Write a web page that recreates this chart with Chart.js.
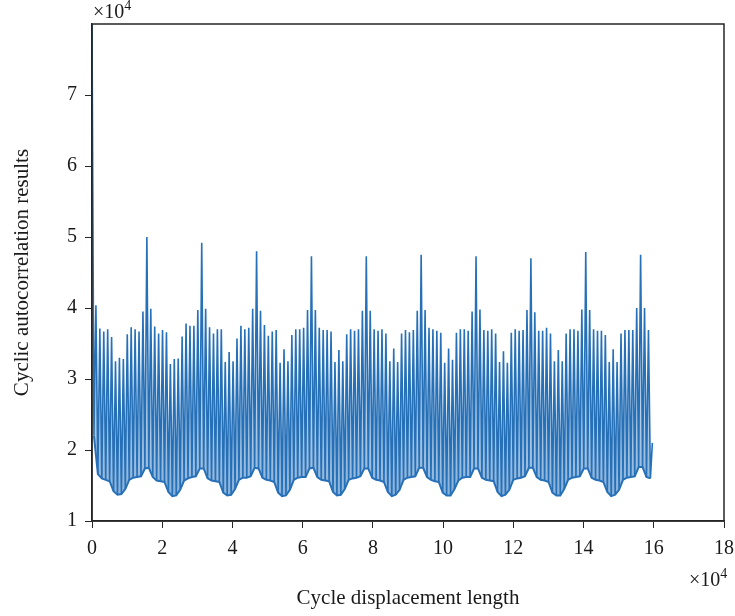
<!DOCTYPE html>
<html>
<head>
<meta charset="utf-8">
<script src="https://cdn.jsdelivr.net/npm/chart.js@4/dist/chart.umd.min.js"></script>
<style>
  html, body { margin: 0; padding: 0; background: #fff; }
  #wrap { width: 735px; height: 616px; }
</style>
</head>
<body>
<div id="wrap"><canvas id="acf"></canvas></div>
<script>
// lag between neighbouring autocorrelation peaks (units of 10^4)
const LAG_STEP = 1.5625 / 14;

// peak heights (x10^4), one row per cycle of 14 peaks, row starts at the big spike
const peakTops = [
  7.99, 4.04, 3.71, 3.67, 3.70, 3.59, 3.25, 3.30, 3.28, 3.63, 3.73, 3.70, 3.67, 3.95,
  5.00, 3.99, 3.74, 3.64, 3.69, 3.66, 3.21, 3.28, 3.29, 3.60, 3.78, 3.75, 3.75, 3.97,
  4.92, 3.99, 3.73, 3.64, 3.70, 3.70, 3.24, 3.38, 3.25, 3.57, 3.75, 3.70, 3.72, 3.99,
  4.80, 3.96, 3.76, 3.61, 3.67, 3.69, 3.23, 3.42, 3.25, 3.62, 3.70, 3.70, 3.72, 3.97,
  4.73, 3.97, 3.72, 3.69, 3.69, 3.67, 3.24, 3.41, 3.25, 3.63, 3.70, 3.68, 3.70, 3.96,
  4.73, 3.96, 3.70, 3.68, 3.70, 3.64, 3.25, 3.43, 3.24, 3.64, 3.69, 3.66, 3.69, 3.96,
  4.75, 3.97, 3.72, 3.70, 3.68, 3.65, 3.23, 3.43, 3.27, 3.65, 3.70, 3.70, 3.68, 3.95,
  4.73, 3.98, 3.69, 3.68, 3.70, 3.64, 3.24, 3.39, 3.23, 3.65, 3.70, 3.68, 3.69, 3.97,
  4.70, 3.94, 3.68, 3.68, 3.72, 3.64, 3.25, 3.41, 3.25, 3.64, 3.70, 3.70, 3.68, 3.98,
  4.79, 3.97, 3.70, 3.68, 3.68, 3.62, 3.24, 3.42, 3.24, 3.64, 3.69, 3.69, 3.69, 4.00,
  4.75, 4.00, 3.69, 2.10
];

// minimum between each peak and the next one (x10^4)
const troughBottoms = [
  2.20, 1.66, 1.60, 1.58, 1.56, 1.42, 1.37, 1.38, 1.45, 1.58, 1.61, 1.62, 1.63, 1.74,
  1.75, 1.62, 1.57, 1.56, 1.55, 1.41, 1.35, 1.36, 1.44, 1.57, 1.60, 1.62, 1.63, 1.74,
  1.74, 1.60, 1.57, 1.56, 1.55, 1.40, 1.36, 1.37, 1.45, 1.58, 1.61, 1.61, 1.63, 1.75,
  1.74, 1.61, 1.58, 1.57, 1.55, 1.40, 1.35, 1.36, 1.44, 1.58, 1.61, 1.62, 1.62, 1.74,
  1.75, 1.62, 1.58, 1.57, 1.56, 1.41, 1.36, 1.37, 1.45, 1.58, 1.60, 1.61, 1.63, 1.74,
  1.74, 1.61, 1.58, 1.57, 1.55, 1.41, 1.35, 1.37, 1.44, 1.58, 1.61, 1.62, 1.63, 1.75,
  1.75, 1.62, 1.58, 1.56, 1.55, 1.40, 1.36, 1.36, 1.45, 1.57, 1.61, 1.62, 1.62, 1.74,
  1.74, 1.61, 1.58, 1.57, 1.56, 1.41, 1.35, 1.37, 1.44, 1.58, 1.60, 1.61, 1.63, 1.75,
  1.75, 1.62, 1.58, 1.57, 1.55, 1.40, 1.36, 1.36, 1.45, 1.58, 1.61, 1.62, 1.63, 1.74,
  1.74, 1.61, 1.58, 1.57, 1.55, 1.41, 1.35, 1.37, 1.44, 1.58, 1.61, 1.62, 1.63, 1.76,
  1.76, 1.62, 1.60
];

const xTicks = [0, 2, 4, 6, 8, 10, 12, 14, 16, 18];
const yTicks = [1, 2, 3, 4, 5, 6, 7];

const BLUE = '#2670b8';
const INK = '#262626';
const FONT = '"Liberation Serif", "DejaVu Serif", serif';

// zigzag through peaks and troughs, plus the trough floor on its own
const zigzag = [];
const floor = [];
peakTops.forEach((v, i) => {
  zigzag.push({ x: i * LAG_STEP, y: v });
  if (i < troughBottoms.length) {
    const t = { x: (i + 0.5) * LAG_STEP, y: troughBottoms[i] };
    zigzag.push(t);
    floor.push(t);
  }
});

const shade = (c) => {
  const chart = c.chart;
  if (!chart.chartArea) return 'rgba(43,115,186,0.3)';
  const y = chart.scales.y;
  const g = chart.ctx.createLinearGradient(0, y.getPixelForValue(1.4), 0, y.getPixelForValue(3.8));
  g.addColorStop(0, 'rgba(43,115,186,0.55)');
  g.addColorStop(1, 'rgba(43,115,186,0.1)');
  return g;
};

// box round the plot plus the x10^4 exponents
const frame = {
  id: 'frame',
  afterDraw(chart) {
    const { ctx, chartArea: a } = chart;
    ctx.save();
    ctx.strokeStyle = INK;
    ctx.lineWidth = 1.5;
    ctx.strokeRect(a.left, a.top, a.right - a.left, a.bottom - a.top);

    ctx.fillStyle = '#1a1a1a';
    ctx.textBaseline = 'alphabetic';
    ctx.textAlign = 'left';
    const exp = (x, y) => {
      ctx.font = '20px ' + FONT;
      ctx.fillText('\u00d710', x, y);
      const w = ctx.measureText('\u00d710').width;
      ctx.font = '14px ' + FONT;
      ctx.fillText('4', x + w, y - 8);
    };
    exp(a.left + 1, 18);
    exp(689, 586);
    ctx.restore();
  }
};

new Chart(document.getElementById('acf'), {
  type: 'line',
  data: {
    datasets: [
      { data: zigzag, borderColor: BLUE, borderWidth: 1.6, pointRadius: 0, tension: 0, fill: '+1', backgroundColor: shade },
      { data: floor, borderColor: BLUE, borderWidth: 2, pointRadius: 0, tension: 0, fill: false }
    ]
  },
  options: {
    responsive: true,
    maintainAspectRatio: false,
    animation: false,
    events: [],
    layout: { padding: { top: 24, right: 11, left: 0, bottom: 0 } },
    plugins: { legend: { display: false }, tooltip: { enabled: false } },
    scales: {
      x: {
        type: 'linear', min: 0, max: 18,
        afterBuildTicks: (s) => { s.ticks = xTicks.map(v => ({ value: v })); },
        afterFit: (s) => { s.height = 95; s.paddingLeft = 0; s.paddingRight = 0; },
        grid: { drawOnChartArea: false, drawTicks: true, tickLength: 7, color: INK },
        border: { color: INK, width: 1.5 },
        ticks: { color: '#1a1a1a', font: { family: FONT, size: 20 }, padding: 9, maxRotation: 0, autoSkip: false },
        title: { display: true, text: 'Cycle displacement length', color: '#1a1a1a', font: { family: FONT, size: 21 }, padding: { top: 0, bottom: 5.4 } }
      },
      y: {
        type: 'linear', min: 1, max: 8,
        afterBuildTicks: (s) => { s.ticks = yTicks.map(v => ({ value: v })); },
        afterFit: (s) => { s.width = 92; s.paddingTop = 0; s.paddingBottom = 0; },
        grid: { drawOnChartArea: false, drawTicks: true, tickLength: 7, color: INK },
        border: { color: INK, width: 1.5 },
        ticks: { color: '#1a1a1a', font: { family: FONT, size: 20 }, padding: 8 },
        title: { display: true, text: 'Cyclic autocorrelation results', color: '#1a1a1a', font: { family: FONT, size: 21 }, padding: { top: 9.4, bottom: 0 } }
      }
    }
  },
  plugins: [frame]
});
</script>
</body>
</html>
